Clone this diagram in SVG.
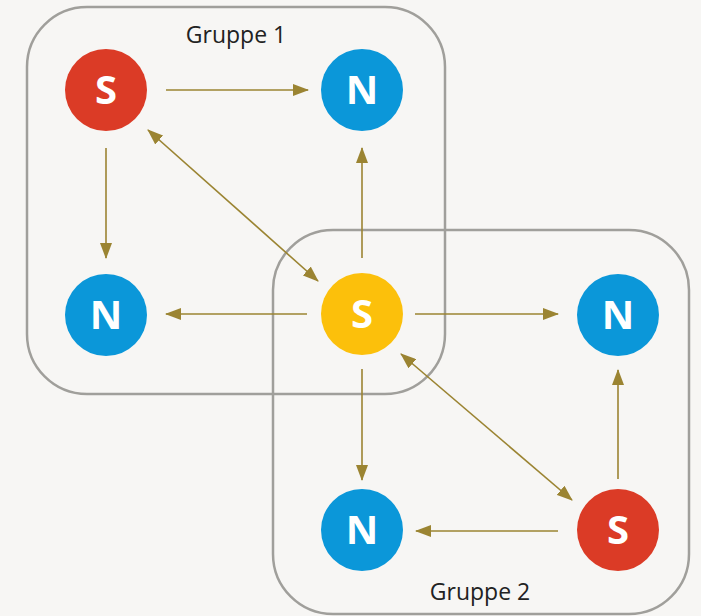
<svg xmlns="http://www.w3.org/2000/svg" width="701" height="616" viewBox="0 0 701 616">
<style>
.grp{fill:none;stroke:#a09f9b;stroke-width:2.5}
.lbl{font-family:"Open Sans","Noto Sans",sans-serif;font-size:23px;fill:#222}
.ln{stroke:#9b8432;stroke-width:1.6;fill:none}
.t{font-family:"Open Sans","Noto Sans",sans-serif;font-size:40px;font-weight:bold;fill:#fff;text-anchor:middle}
.red{fill:#db3b26}.blue{fill:#0b97d9}.yel{fill:#fcc00b}
</style>
<defs>
<marker id="ah" viewBox="0 0 16 12" refX="15" refY="6" markerWidth="16" markerHeight="12" markerUnits="userSpaceOnUse" orient="auto-start-reverse">
<path d="M0,0 L16,6 L0,12 Z" fill="#9b8432"/>
</marker>
</defs>
<rect width="701" height="616" fill="#f7f6f4"/>
<g id="gruppe1"><rect class="grp" x="27" y="7" width="418" height="387" rx="60"/><text class="lbl" x="236" y="43" text-anchor="middle">Gruppe 1</text></g>
<g id="gruppe2"><rect class="grp" x="273" y="230" width="416" height="384" rx="60"/><text class="lbl" x="480" y="600" text-anchor="middle">Gruppe 2</text></g>
<g id="connectors">
<line class="ln" x1="166" y1="90" x2="308" y2="90" marker-end="url(#ah)"/>
<line class="ln" x1="106" y1="148" x2="106" y2="258" marker-end="url(#ah)"/>
<line class="ln" x1="148" y1="130" x2="318" y2="281" marker-start="url(#ah)" marker-end="url(#ah)"/>
<line class="ln" x1="362" y1="258" x2="362" y2="148" marker-end="url(#ah)"/>
<line class="ln" x1="307" y1="314" x2="166" y2="314" marker-end="url(#ah)"/>
<line class="ln" x1="415" y1="314" x2="558" y2="314" marker-end="url(#ah)"/>
<line class="ln" x1="362" y1="369" x2="362" y2="480" marker-end="url(#ah)"/>
<line class="ln" x1="401" y1="354" x2="572" y2="500" marker-start="url(#ah)" marker-end="url(#ah)"/>
<line class="ln" x1="618" y1="479" x2="618" y2="370" marker-end="url(#ah)"/>
<line class="ln" x1="558" y1="531" x2="416" y2="531" marker-end="url(#ah)"/>
</g>
<g id="s1"><circle class="red" cx="106" cy="90" r="41"/><text class="t" x="106" y="104">S</text></g>
<g id="n1"><circle class="blue" cx="362" cy="90" r="41"/><text class="t" x="362" y="104">N</text></g>
<g id="n2"><circle class="blue" cx="106" cy="315" r="41"/><text class="t" x="106" y="329">N</text></g>
<g id="s0"><circle class="yel" cx="362" cy="314" r="41"/><text class="t" x="362" y="328">S</text></g>
<g id="n3"><circle class="blue" cx="618" cy="315" r="41"/><text class="t" x="618" y="329">N</text></g>
<g id="n4"><circle class="blue" cx="362" cy="530" r="41"/><text class="t" x="362" y="544">N</text></g>
<g id="s2"><circle class="red" cx="618" cy="530" r="41"/><text class="t" x="618" y="544">S</text></g>
</svg>
